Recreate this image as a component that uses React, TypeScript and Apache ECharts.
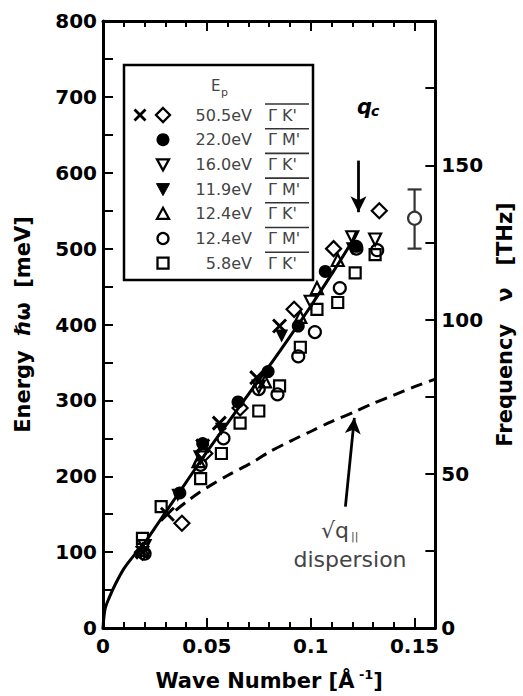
import React, { useEffect, useRef } from "react";
import * as echarts from "echarts";

// ---- data (q in 1/Å, E in meV) ----
const fitQ = [0, 0.001, 0.003, 0.006, 0.01, 0.015, 0.02, 0.025, 0.03, 0.04, 0.05, 0.06, 0.07, 0.08, 0.09, 0.1, 0.11, 0.12, 0.122];
const fitE = [0, 25, 40, 58, 78, 96, 112, 132, 152, 192, 232, 270, 308, 345, 384, 424, 466, 510, 522];

const dispQ = [0.035, 0.04, 0.046, 0.05, 0.06, 0.073, 0.08, 0.09, 0.1, 0.11, 0.122, 0.13, 0.14, 0.15, 0.16];
const dispE = [155, 166, 178, 185, 201, 220, 232, 246, 259, 272, 286, 296, 307, 318, 328];

const crossPts = [[0.019, 100], [0.031, 150], [0.048, 240], [0.056, 270], [0.074, 330], [0.085, 398]];
const diamondPts = [[0.019, 100], [0.038, 138], [0.049, 230], [0.066, 290], [0.092, 420], [0.111, 500], [0.133, 550]];
const dotPts = [[0.037, 178], [0.048, 243], [0.065, 298], [0.0795, 338], [0.094, 398], [0.107, 470], [0.122, 503]];
const triDownOpenPts = [[0.02, 108], [0.047, 225], [0.075, 318], [0.1, 430], [0.12, 515], [0.131, 512]];
const triDownFilledPts = [[0.036, 175], [0.057, 262], [0.086, 385], [0.12, 500]];
const triUpPts = [[0.019, 103], [0.046, 220], [0.078, 325], [0.095, 410], [0.103, 448], [0.113, 485]];
const circlePts = [[0.02, 98], [0.047, 215], [0.058, 250], [0.075, 315], [0.084, 308], [0.094, 358], [0.102, 390], [0.114, 448], [0.122, 500], [0.132, 498]];
const squarePts = [[0.019, 118], [0.028, 160], [0.047, 197], [0.057, 230], [0.066, 270], [0.075, 286], [0.085, 319], [0.095, 370], [0.103, 420], [0.113, 429], [0.1214, 468], [0.131, 492]];
const errPoint = [[0.15, 540]];
const errRange = [[0.15, 500, 578]];

const qcArrow = [[0.123, 616], [0.123, 548]];
const dispArrow = [[0.1167, 160], [0.121, 277]];

const legendEnergies = ["50.5eV", "22.0eV", "16.0eV", "11.9eV", "12.4eV", "12.4eV", "5.8eV"];
const legendDirections = ["Γ K'", "Γ M'", "Γ K'", "Γ M'", "Γ K'", "Γ M'", "Γ K'"];
const legendKinds = [["cross", "diamond"], ["dot"], ["triDownOpen"], ["triDownFilled"], ["triUp"], ["circle"], ["square"]];

const FONT = '"DejaVu Sans", "Liberation Sans", Arial, sans-serif';
const GRAY = "#444";

const isMult = (v: number, step: number) => Math.abs(v / step - Math.round(v / step)) < 1e-6;
const fmt = (v: number) => (v === 0 ? "0" : String(parseFloat(v.toFixed(3))));

function legendSymbol(kind: string, cx: number, cy: number): any[] {
  const stroke = { stroke: "#000", lineWidth: 2.3, fill: "none" };
  switch (kind) {
    case "cross":
      return [
        { type: "line", z: 11, shape: { x1: cx - 5.5, y1: cy - 5.5, x2: cx + 5.5, y2: cy + 5.5 }, style: { stroke: "#000", lineWidth: 2.8 } },
        { type: "line", z: 11, shape: { x1: cx + 5.5, y1: cy - 5.5, x2: cx - 5.5, y2: cy + 5.5 }, style: { stroke: "#000", lineWidth: 2.8 } },
      ];
    case "diamond":
      return [{ type: "polygon", z: 11, shape: { points: [[cx, cy - 7], [cx + 7, cy], [cx, cy + 7], [cx - 7, cy]] }, style: stroke }];
    case "dot":
      return [{ type: "circle", z: 11, shape: { cx, cy, r: 6.5 }, style: { fill: "#000" } }];
    case "triDownOpen":
      return [{ type: "polygon", z: 11, shape: { points: [[cx - 6, cy - 5], [cx + 6, cy - 5], [cx, cy + 6]] }, style: stroke }];
    case "triDownFilled":
      return [{ type: "polygon", z: 11, shape: { points: [[cx - 6.5, cy - 5.5], [cx + 6.5, cy - 5.5], [cx, cy + 6.5]] }, style: { fill: "#000", stroke: "#000", lineWidth: 1 } }];
    case "triUp":
      return [{ type: "polygon", z: 11, shape: { points: [[cx, cy - 6], [cx + 6, cy + 5], [cx - 6, cy + 5]] }, style: stroke }];
    case "circle":
      return [{ type: "circle", z: 11, shape: { cx, cy, r: 5.5 }, style: stroke }];
    default:
      return [{ type: "rect", z: 11, shape: { x: cx - 5.5, y: cy - 5.5, width: 11, height: 11 }, style: stroke }];
  }
}

function buildLegend(): any[] {
  const els: any[] = [];
  els.push({ type: "rect", shape: { x: 124, y: 65, width: 189, height: 215 }, style: { fill: "#fff", stroke: "#000", lineWidth: 2.5 }, z: 10 });
  els.push({ type: "text", x: 211, y: 78, style: { text: "E", fill: GRAY, font: `15px ${FONT}` }, z: 11 });
  els.push({ type: "text", x: 221, y: 87, style: { text: "p", fill: GRAY, font: `11px ${FONT}` }, z: 11 });
  const y0 = 115;
  const gap = 24.7;
  legendEnergies.forEach((en, i) => {
    const cy = y0 + i * gap;
    const kinds = legendKinds[i];
    if (kinds.length === 2) {
      els.push(...legendSymbol(kinds[0], 140, cy));
      els.push(...legendSymbol(kinds[1], 163, cy));
    } else {
      els.push(...legendSymbol(kinds[0], 163, cy));
    }
    els.push({ type: "text", x: 252, y: cy, style: { text: en, fill: GRAY, font: `16px ${FONT}`, align: "right", verticalAlign: "middle" }, z: 11 });
    els.push({ type: "text", x: 268, y: cy, style: { text: legendDirections[i], fill: GRAY, font: `16px ${FONT}`, align: "left", verticalAlign: "middle" }, z: 11 });
    els.push({ type: "line", shape: { x1: 265, y1: cy - 11, x2: 309, y2: cy - 11 }, style: { stroke: "#333", lineWidth: 1.6 }, z: 11 });
  });
  return els;
}

function buildAnnotations(): any[] {
  return [
    { type: "text", x: 357, y: 96, style: { text: "q", fill: "#000", font: `italic bold 21px ${FONT}` } },
    { type: "text", x: 371, y: 104, style: { text: "c", fill: "#000", font: `italic bold 14px ${FONT}` } },
    { type: "text", x: 321, y: 519, style: { text: "√q", fill: GRAY, font: `22px ${FONT}` } },
    { type: "text", x: 351, y: 531, style: { text: "||", fill: GRAY, font: `11px ${FONT}` } },
    { type: "text", x: 350, y: 559, style: { text: "dispersion", fill: GRAY, font: `22px ${FONT}`, align: "center", verticalAlign: "middle" } },
  ];
}

const axisLineStyle = { color: "#000", width: 3 };
const tickLine = { color: "#000", width: 2 };
const labelStyle = { color: "#000", fontFamily: FONT, fontWeight: "bold" as const, fontSize: 20 };

export default function App() {
  const ref = useRef<HTMLDivElement>(null);
  useEffect(() => {
    if (!ref.current) return;
    const chart = echarts.init(ref.current, undefined, { renderer: "svg" });
    const open = (sym: string, size: number, data: number[][], rotate = 0) => ({
      type: "scatter",
      symbol: sym,
      symbolSize: size,
      symbolRotate: rotate,
      data,
      itemStyle: { color: "transparent", borderColor: "#000", borderWidth: 2.2, opacity: 1 },
      z: 3,
    });
    const option: any = {
      animation: false,
      backgroundColor: "#fff",
      grid: { left: 103, right: 85, top: 21, bottom: 66, containLabel: false },
      xAxis: [
        {
          type: "value", position: "bottom", min: 0, max: 0.16, interval: 0.01,
          axisLine: { onZero: false, lineStyle: axisLineStyle },
          axisTick: { inside: true, length: 6, lineStyle: tickLine },
          axisLabel: { ...labelStyle, margin: 8, showMaxLabel: false, formatter: (v: number) => (isMult(v, 0.05) ? fmt(v) : "") },
          splitLine: { show: false },
          name: "Wave Number [Å{sup| -1}]",
          nameLocation: "middle",
          nameGap: 40,
          nameTextStyle: { ...labelStyle, fontSize: 21, rich: { sup: { fontFamily: FONT, fontWeight: "bold", fontSize: 13, color: "#000", padding: [0, 0, 12, 0] } } },
        },
        {
          type: "value", position: "bottom", min: 0, max: 0.16, interval: 0.05,
          axisLine: { show: false, onZero: false },
          axisTick: { inside: true, length: 10, lineStyle: tickLine },
          axisLabel: { show: false }, splitLine: { show: false },
        },
        {
          type: "value", position: "top", min: 0, max: 0.16, interval: 0.01,
          axisLine: { onZero: false, lineStyle: axisLineStyle },
          axisTick: { inside: true, length: 6, lineStyle: tickLine },
          axisLabel: { show: false }, splitLine: { show: false },
        },
        {
          type: "value", position: "top", min: 0, max: 0.16, interval: 0.05,
          axisLine: { show: false, onZero: false },
          axisTick: { inside: true, length: 10, lineStyle: tickLine },
          axisLabel: { show: false }, splitLine: { show: false },
        },
      ],
      yAxis: [
        {
          type: "value", position: "left", min: 0, max: 800, interval: 50,
          axisLine: { onZero: false, lineStyle: axisLineStyle },
          axisTick: { inside: true, length: 10, lineStyle: tickLine },
          axisLabel: { ...labelStyle, margin: 6, formatter: (v: number) => (isMult(v, 100) ? String(v) : "") },
          splitLine: { show: false },
          name: "Energy  ℏω  [meV]",
          nameLocation: "middle",
          nameRotate: 90,
          nameGap: 70,
          nameTextStyle: { ...labelStyle, fontSize: 21 },
        },
        {
          type: "value", position: "right", min: 0, max: 196.8, interval: 25,
          axisLine: { onZero: false, lineStyle: axisLineStyle },
          axisTick: { inside: true, length: 10, lineStyle: tickLine },
          axisLabel: { ...labelStyle, margin: 6, showMaxLabel: false, formatter: (v: number) => (isMult(v, 50) ? String(v) : "") },
          splitLine: { show: false },
          name: "Frequency   ν   [THz]",
          nameLocation: "middle",
          nameRotate: 90,
          nameGap: 56,
          nameTextStyle: { ...labelStyle, fontSize: 21 },
        },
      ],
      graphic: [...buildLegend(), ...buildAnnotations()],
      series: [
        {
          type: "line", data: fitQ.map((q, i) => [q, fitE[i]]), showSymbol: false, smooth: 0.3,
          lineStyle: { color: "#000", width: 3 }, z: 4,
          markLine: {
            silent: true, symbol: ["none", "arrow"], symbolSize: [12, 16],
            label: { show: false },
            lineStyle: { color: "#000", width: 2.8, type: "solid" },
            data: [
              [{ coord: qcArrow[0] }, { coord: qcArrow[1] }],
              [{ coord: dispArrow[0] }, { coord: dispArrow[1] }],
            ],
          },
        },
        {
          type: "line", data: dispQ.map((q, i) => [q, dispE[i]]), showSymbol: false, smooth: 0.3,
          lineStyle: { color: "#000", width: 3, type: [12, 7] }, z: 4,
        },
        {
          type: "scatter", symbol: "path://M0,0L10,10M10,0L0,10", symbolSize: 13, data: crossPts,
          itemStyle: { color: "transparent", borderColor: "#000", borderWidth: 3, opacity: 1 }, z: 3,
        },
        open("diamond", 15, diamondPts),
        { type: "scatter", symbol: "circle", symbolSize: 13, data: dotPts, itemStyle: { color: "#000", opacity: 1 }, z: 3 },
        open("triangle", 12, triDownOpenPts, 180),
        { type: "scatter", symbol: "triangle", symbolSize: 13, symbolRotate: 180, data: triDownFilledPts, itemStyle: { color: "#000", opacity: 1 }, z: 3 },
        open("triangle", 12, triUpPts),
        open("circle", 12, circlePts),
        open("rect", 11, squarePts),
        {
          type: "custom", data: errRange, z: 3,
          renderItem: (params: any, api: any) => {
            const x = api.value(0);
            const lo = api.coord([x, api.value(1)]);
            const hi = api.coord([x, api.value(2)]);
            const st = { stroke: "#333", lineWidth: 2.2 };
            return {
              type: "group",
              children: [
                { type: "line", shape: { x1: hi[0], y1: hi[1], x2: lo[0], y2: lo[1] }, style: st },
                { type: "line", shape: { x1: hi[0] - 7, y1: hi[1], x2: hi[0] + 7, y2: hi[1] }, style: st },
                { type: "line", shape: { x1: lo[0] - 7, y1: lo[1], x2: lo[0] + 7, y2: lo[1] }, style: st },
              ],
            };
          },
        },
        {
          type: "scatter", symbol: "circle", symbolSize: 13, data: errPoint,
          itemStyle: { color: "#fff", borderColor: "#333", borderWidth: 2.2, opacity: 1 }, z: 5,
        },
      ],
    };
    chart.setOption(option);
    return () => chart.dispose();
  }, []);
  return <div ref={ref} style={{ position: "fixed", left: 0, top: 0, width: 523, height: 696, background: "#fff" }} />;
}
